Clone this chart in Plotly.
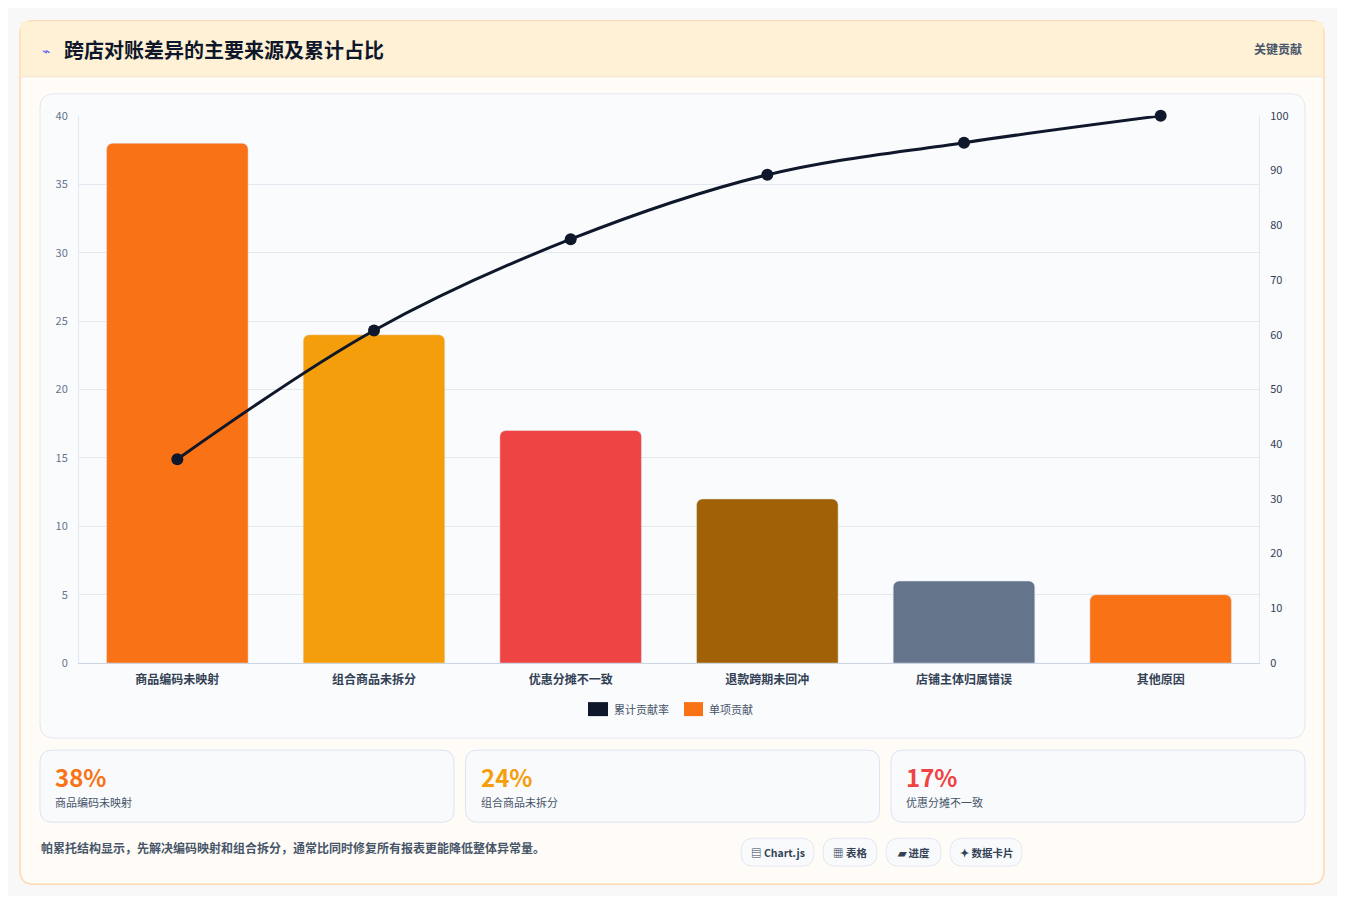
import plotly.graph_objects as go

categories = ["商品编码未映射", "组合商品未拆分", "优惠分摊不一致", "退款跨期未回冲", "店铺主体归属错误", "其他原因"]
values = [38, 24, 17, 12, 6, 5]
bar_colors = ["#f97316", "#f59e0b", "#ef4444", "#a16207", "#64748b", "#f97316"]
kpi_values = ["38%", "24%", "17%"]
kpi_labels = ["商品编码未映射", "组合商品未拆分", "优惠分摊不一致"]
kpi_colors = ["#f97316", "#f59e0b", "#ef4444"]
chips = ["▤ Chart.js", "▦ 表格", "▰ 进度", "✦ 数据卡片"]

total = sum(values)
cum = []
s = 0
for v in values:
    s += v
    cum.append(s / total * 100)

OFF = 8
W, H = 1345 - 2 * OFF, 904 - 2 * OFF
def px(x): return (x - OFF) / W
def py(y):
    yy = (y - 8.37) / 0.9815
    return 1 - (yy - OFF) / H

FONT = "Noto Sans CJK SC"
fig = go.Figure()
fig.add_bar(x=categories, y=values, marker=dict(color=bar_colors, cornerradius=6), width=0.72, yaxis="y", showlegend=False)
fig.add_scatter(x=categories, y=cum, yaxis="y2", mode="lines+markers", line=dict(color="#0f172a", width=3, shape="spline"),
                marker=dict(size=12, color="#0f172a"), showlegend=False, cliponaxis=False)

shapes = []
def rect(x0, y0, x1, y1, fill, line="rgba(0,0,0,0)", lw=1, layer="below"):
    shapes.append(dict(type="rect", xref="paper", yref="paper", x0=px(x0), x1=px(x1), y0=py(y1), y1=py(y0),
                       fillcolor=fill, line=dict(color=line, width=lw), layer=layer))
def rrect(x0, y0, x1, y1, r, fill, line="rgba(0,0,0,0)", lw=1):
    p = (f"M {px(x0+r)} {py(y0)} L {px(x1-r)} {py(y0)} Q {px(x1)} {py(y0)} {px(x1)} {py(y0+r)} "
         f"L {px(x1)} {py(y1-r)} Q {px(x1)} {py(y1)} {px(x1-r)} {py(y1)} L {px(x0+r)} {py(y1)} "
         f"Q {px(x0)} {py(y1)} {px(x0)} {py(y1-r)} L {px(x0)} {py(y0+r)} Q {px(x0)} {py(y0)} {px(x0+r)} {py(y0)} Z")
    shapes.append(dict(type="path", xref="paper", yref="paper", path=p, fillcolor=fill, line=dict(color=line, width=lw), layer="below"))

rrect(20, 20, 1324, 883, 14, "#fffcf7", "#fcd9b0", 1.5)
rect(21, 21, 1323, 76, "#fff1d6")
shapes.append(dict(type="line", xref="paper", yref="paper", x0=px(21), x1=px(1323), y0=py(76), y1=py(76), line=dict(color="#f3e3c8", width=1), layer="below"))
rrect(40, 93, 1305, 737, 14, "#fafbfd", "#e2e8f0", 1)
for i in range(3):
    x0 = 40 + i * 425.5
    rrect(x0, 749, x0 + 414, 821, 12, "#f8fafc", "#dbe4f3", 1)
chip_x = [(741, 814), (823, 877), (886, 941), (950, 1022)]
for (a, b) in chip_x:
    rrect(a, 837, b, 865, 13, "#f8fafc", "#e2e8f0", 1)
rect(588, 701, 608, 715, "#0f172a", layer="above")
rect(684, 701, 703, 715, "#f97316", layer="above")

ann = []
def text(x, y, t, size, color, anchor="left", bold=False, yanchor="middle"):
    ann.append(dict(xref="paper", yref="paper", x=px(x), y=py(y), text=f"<b>{t}</b>" if bold else t, showarrow=False,
                    xanchor=anchor, yanchor=yanchor, font=dict(size=size, color=color, family=FONT)))

text(40, 49, "⌁", 14, "#6366f1")
text(62, 49, "跨店对账差异的主要来源及累计占比", 20, "#0f172a", bold=True)
text(1304, 48, "关键贡献", 12, "#475569", anchor="right", bold=True)
text(612, 708, "累计贡献率", 11, "#475569")
text(707, 708, "单项贡献", 11, "#475569")
for i in range(3):
    x0 = 40 + i * 425.5
    text(x0 + 13, 775, kpi_values[i], 24, kpi_colors[i], bold=True)
    text(x0 + 13, 801, kpi_labels[i], 11, "#475569")
text(39, 846, "帕累托结构显示，先解决编码映射和组合拆分，通常比同时修复所有报表更能降低整体异常量。", 12, "#475569", bold=True)
for (a, b), c in zip(chip_x, chips):
    text((a + b) / 2, 851, c, 10.5, "#334155", anchor="center", bold=True)

fig.update_layout(
    width=W, height=H, margin=dict(l=0, r=0, t=0, b=0),
    paper_bgcolor="#f8f8f9", plot_bgcolor="rgba(0,0,0,0)",
    font=dict(family=FONT, color="#64748b"),
    shapes=shapes, annotations=ann, bargap=0.28,
    xaxis=dict(domain=[px(79), px(1259)], showgrid=False, showline=True, linecolor="#cbd5e1", ticks="outside", ticklen=6, tickcolor="rgba(0,0,0,0)",
               tickfont=dict(size=12, color="#334155", family=FONT, weight="bold"), anchor="y"),
    yaxis=dict(domain=[py(662), py(115)], range=[0, 40], dtick=5, gridcolor="#e2e8f0", zeroline=False,
               showline=True, linecolor="#e2e8f0", tickfont=dict(size=11, color="#64748b"), ticks="outside", ticklen=8, tickcolor="rgba(0,0,0,0)"),
    yaxis2=dict(overlaying="y", side="right", range=[0, 100], dtick=10, showgrid=False, zeroline=False,
                showline=True, linecolor="#e2e8f0", tickfont=dict(size=11, color="#334155"), ticks="outside", ticklen=8, tickcolor="rgba(0,0,0,0)"),
)
fig.write_html("out.html")
